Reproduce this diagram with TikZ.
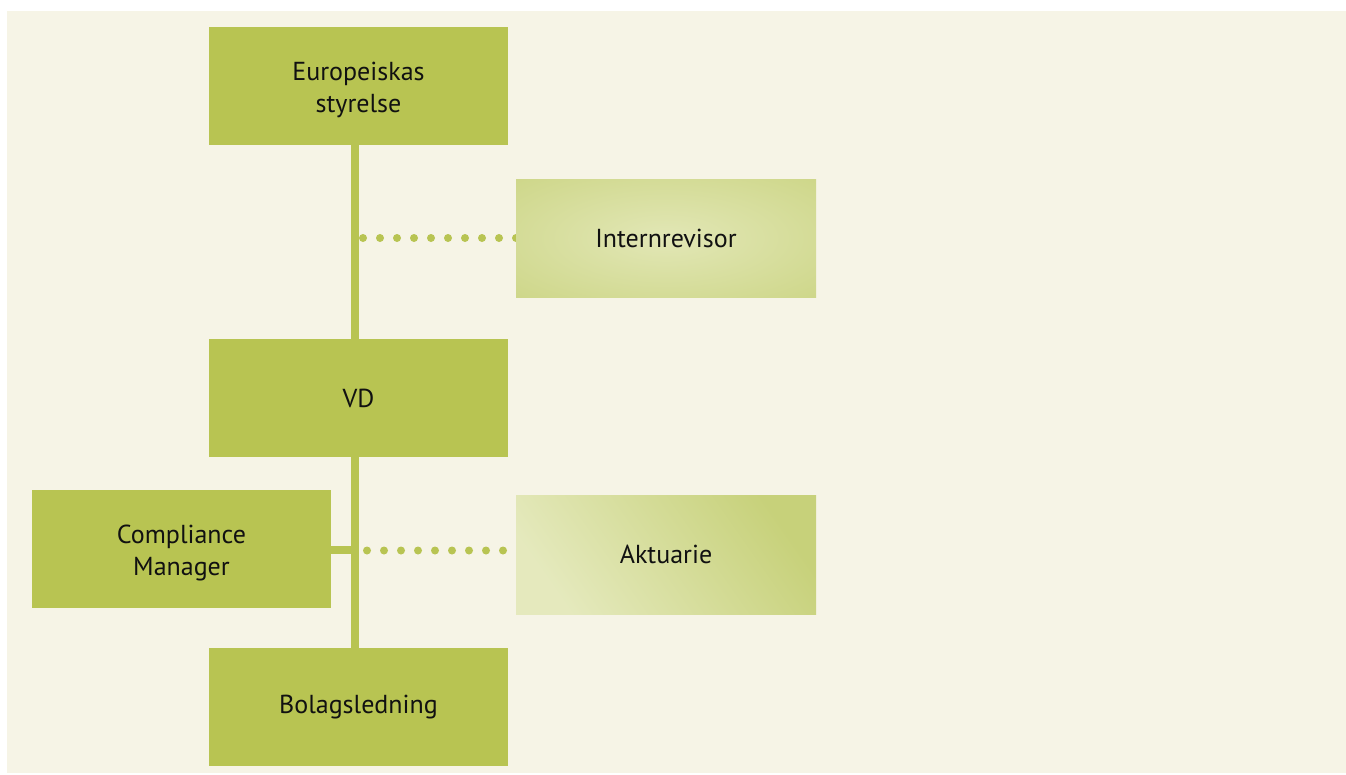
\documentclass[tikz,border=0pt]{standalone}
\usepackage{fontspec}
\setmainfont{PT Sans}
\usetikzlibrary{calc}
\definecolor{bgcream}{HTML}{F6F4E6}
\definecolor{boxgreen}{HTML}{B8C452}
\definecolor{lightgreen}{HTML}{E2E7B6}
\definecolor{midgreen}{HTML}{C7D17A}
\definecolor{txt}{HTML}{111111}
\pgfdeclareradialshading{softglow}{\pgfpoint{0bp}{0bp}}{color(0bp)=(lightgreen); color(48bp)=(midgreen); color(75bp)=(midgreen)}
\pgfdeclarelayer{bg}
\pgfsetlayers{bg,main}
\begin{document}
\begin{tikzpicture}[x=1pt,y=-1pt,
  box/.style={rectangle, inner sep=0pt, minimum width=299pt, minimum height=118pt,
    align=center, text=txt, font=\fontsize{26}{32}\selectfont},
  solidbox/.style={box, fill=boxgreen},
  twoline/.style={text height=59pt},
  spine/.style={draw=boxgreen, line width=8pt},
  dotline/.style={draw=boxgreen, line width=8pt, line cap=round, dash pattern=on 0pt off 17pt}]
\useasboundingbox (0,0) rectangle (1346,774);
\begin{pgfonlayer}{bg}
\fill[bgcream] (7,11) rectangle (1346,773);
\end{pgfonlayer}
\node[solidbox, twoline] (top) at (358.5,85.5) {Europeiskas\\styrelse};
\node[box, minimum width=300pt, shading=softglow] (intern) at (666,238) {Internrevisor};
\node[box, minimum width=300pt, minimum height=119pt, top color=midgreen, bottom color=lightgreen!90!white, shading angle=-55] (akt) at (666,554.5) {Aktuarie};
\node[solidbox] (vd) at (358.5,398) {VD};
\node[solidbox, twoline] (cm) at (181.5,549) {Compliance\\Manager};
\node[solidbox] (bol) at (358.5,707) {Bolagsledning};
\coordinate (s1) at (355,300);
\begin{pgfonlayer}{bg}
\draw[spine] (top.south -| s1) -- (vd.north -| s1);
\draw[spine] (vd.south -| s1) -- (bol.north -| s1);
\draw[spine] ($(cm.east)+(0,1)$) -- ($(cm.east -| s1)+(0,1)$);
\draw[dotline] ($(intern.west -| s1)+(8,0)$) -- ($(intern.west)+(1,0)$);
\draw[dotline] ($(akt.west -| s1)+(12,-4)$) -- ($(akt.west)+(5,-4)$);
\end{pgfonlayer}
\end{tikzpicture}
\end{document}
